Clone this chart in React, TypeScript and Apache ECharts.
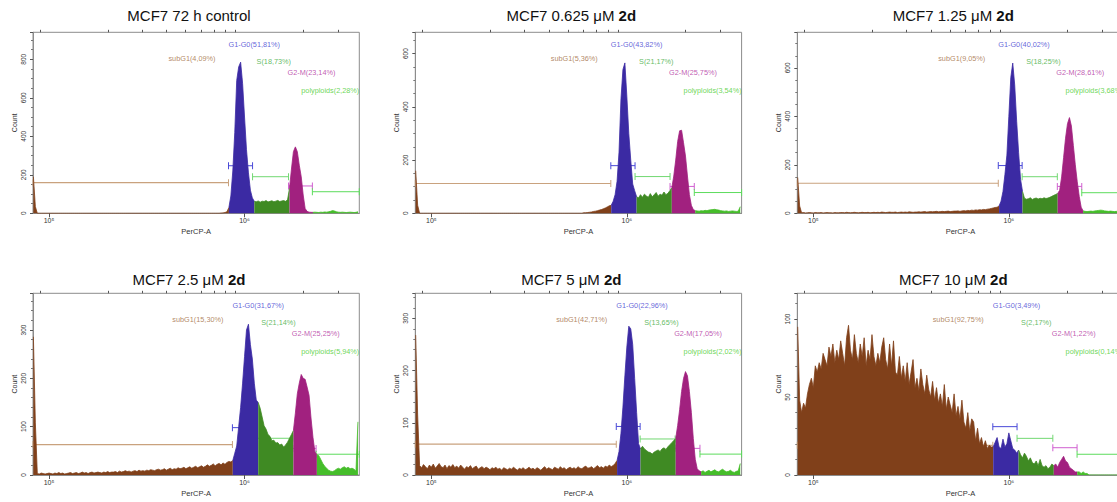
import React, { useEffect, useRef } from "react";
import * as echarts from "echarts";

// ---------- histogram channel grid (log10 of PerCP-A) ----------
const BIN_START_LOG = 4.92;
const BIN_STEP_LOG = 0.01;
const AXIS_MIN_LOG = 4.918;
const AXIS_MAX_LOG = 6.587;

// ---------- tick values ----------
const majorTicks = [1e5, 1e6];
const minorTicks = [9e4, 2e5, 3e5, 4e5, 5e5, 6e5, 7e5, 8e5, 9e5, 2e6, 3e6];

// ---------- titles ----------
const titleMain = ["MCF7 72 h control", "MCF7 0.625 μM ", "MCF7 1.25 μM ", "MCF7 2.5 μM ", "MCF7 5 μM ", "MCF7 10 μM "];
const titleBold = ["", "2d", "2d", "2d", "2d", "2d"];

// ---------- gate names and percentages ----------
const gateNames = ["subG1", "G1-G0", "S", "G2-M", "polyploids"];
const pct1 = ["4,09", "51,81", "18,73", "23,14", "2,28"];
const pct2 = ["5,36", "43,82", "21,17", "25,75", "3,54"];
const pct3 = ["9,05", "40,02", "18,25", "28,61", "3,68"];
const pct4 = ["15,30", "31,67", "21,14", "25,25", "5,94"];
const pct5 = ["42,71", "22,96", "13,65", "17,05", "2,02"];
const pct6 = ["92,75", "3,49", "2,17", "1,22", "0,14"];

// gate boundaries (log10): end of subG1, end of G1-G0, end of S, end of G2-M
const gates1 = [5.918, 6.041, 6.225, 6.347];
const gates2 = [5.918, 6.042, 6.221, 6.345];
const gates3 = [5.946, 6.068, 6.248, 6.373];
const gates4 = [5.938, 6.065, 6.247, 6.366];
const gates5 = [5.946, 6.068, 6.247, 6.374];
const gates6 = [5.918, 6.042, 6.225, 6.349];

// gate marker heights (Count): subG1, G1-G0, S, G2-M, polyploids
const gateH1 = [159, 247, 190, 142, 112];
const gateH2 = [112, 179, 138, 101, 78];
const gateH3 = [124, 197, 151, 111, 85];
const gateH4 = [63, 98, 76, 55, 43];
const gateH5 = [59, 93, 69, 51, 40];
const gateH6 = [19, 31, 23.5, 17.5, 13.3];

// y axis
const yMaxes = [940, 680, 747, 376, 348, 116.5];
const yIntervals = [200, 200, 200, 100, 100, 50];
const yMinorSplits = [4, 4, 4, 5, 5, 5];

// ---------- histogram counts (167 channels each) ----------
const counts1 = [
  190, 35,
  0, 0, 0, 0, 0, 0, 0, 0, 0, 0,
  0, 0, 0, 0, 0, 0, 0, 0, 0, 0,
  0, 0, 0, 0, 0, 0, 0, 0, 0, 0,
  0, 0, 0, 0, 0, 0, 0, 0, 0, 0,
  0, 0, 0, 0, 0, 0, 0, 0, 0, 0,
  0, 0, 0, 0, 0, 0, 0, 0, 0, 0,
  0, 0, 0, 0, 0, 0, 0, 0, 0, 0,
  0, 0, 0, 0, 0, 0, 0, 0, 0, 0,
  0, 0, 0, 0, 0, 0, 0, 0, 0, 0,
  0, 0, 0, 0,
  1, 2, 4, 8,
  30, 90, 220, 420, 690, 760, 785, 675, 500, 330, 210, 120, 80,
  62, 60, 64, 58, 63, 61, 66, 59, 62, 65, 60, 63, 67, 61, 64, 66, 62,
  70,
  130, 230, 320, 345, 320, 250, 190, 95, 25, 10, 6, 5,
  5, 6, 5, 4, 6, 5, 7, 6, 8, 10, 14, 12, 8, 6, 5, 6, 5, 4, 5, 6, 5, 4, 5, 8,
];

const counts2 = [
  160, 30,
  0, 0, 0, 0, 0, 0, 0, 0, 0, 0,
  0, 0, 0, 0, 0, 0, 0, 0, 0, 0,
  0, 0, 0, 0, 0, 0, 0, 0, 0, 0,
  0, 0, 0, 0, 0, 0, 0, 0, 0, 0,
  0, 0, 0, 0, 0, 0, 0, 0, 0, 0,
  0, 0, 0, 0, 0, 0, 0, 0, 0, 0,
  0, 0, 0, 0, 0, 0, 0, 0, 0, 0,
  0, 0, 0, 0, 0, 0, 0, 0, 0, 0,
  0, 0, 0, 0,
  2, 2, 3, 4, 5, 7, 8, 10, 12, 14, 17, 20, 24, 28,
  30, 45, 70, 120, 230, 430, 540, 565, 440, 300, 200, 110, 85,
  62, 58, 70, 60, 72, 65, 60, 74, 62, 70, 78, 64, 72, 68, 80, 70, 75, 85,
  95, 140, 200, 270, 310, 312, 265, 215, 140, 70, 30, 14,
  10, 9, 8, 10, 9, 11, 10, 12, 13, 14, 15, 13, 12, 10, 9, 8, 9, 7, 8, 9, 8, 7, 8, 25,
];

const counts3 = [
  148, 30,
  2, 3, 1, 2, 3, 2, 1, 3, 2, 2, 3, 1, 2, 3, 2, 2, 1, 3, 2,
  2, 3, 3, 2, 4, 3, 2, 3, 4, 3, 2, 3, 4, 3, 3, 4, 2, 3, 4, 3,
  4, 3, 5, 4, 3, 4, 5, 4, 4, 5, 3, 4, 5, 4, 5, 4, 6, 5, 4, 5,
  5, 6, 5, 6, 7, 5, 6, 7, 6, 7, 8, 6, 7, 8, 7, 8, 9, 7, 8, 9,
  9, 10, 8, 10, 11, 10, 12, 11, 13, 12, 14, 13, 15, 14, 16, 15, 17, 18, 20, 22, 24, 25,
  30, 50, 90, 160, 240, 400, 560, 620, 530, 380, 250, 140, 90,
  62, 58, 60, 64, 57, 61, 63, 59, 62, 60, 64, 61, 63, 66, 70, 74, 78,
  82, 95, 150, 230, 310, 370, 395, 360, 280, 200, 130, 70, 25, 10,
  8, 7, 8, 9, 8, 10, 11, 12, 13, 12, 10, 9, 8, 9, 8, 7, 8, 7, 8, 9,
];

const counts4 = [
  286, 108,
  3, 2, 4, 3, 2, 3, 4, 3, 2, 4, 3, 5, 3, 4, 2, 3, 4, 5, 3,
  4, 5, 3, 4, 6, 4, 5, 3, 5, 6, 4, 5, 6, 5, 4, 6, 5, 7, 5, 6,
  6, 7, 5, 8, 6, 7, 9, 7, 8, 6, 8, 9, 7, 10, 8, 9, 8, 10, 9, 11,
  10, 9, 11, 12, 10, 11, 13, 10, 12, 14, 11, 13, 12, 15, 13, 14, 16, 13, 15, 17,
  14, 16, 18, 15, 17, 19, 16, 18, 21, 18, 20, 23, 19, 22, 24, 21, 25, 22, 26, 28, 27,
  30, 45, 60, 100, 140, 190, 245, 300, 312, 270, 240, 190, 155,
  150, 138, 120, 102, 95, 84, 80, 71, 72, 66, 67, 62, 64, 58, 62, 68, 76, 84,
  92, 128, 168, 190, 208, 200, 198, 182, 165, 118, 78, 48,
  42, 40, 32, 24, 18, 14, 10, 8, 7, 9, 12, 14, 12, 15, 17, 14, 16, 13, 14, 12, 8, 110,
];

const counts5 = [
  268, 115,
  18, 14, 20, 16, 12, 19, 15, 21, 13, 17, 22, 16, 14, 19, 12, 18, 15, 20, 14,
  17, 13, 19, 15, 11, 16, 14, 18, 12, 15, 17, 11, 14, 16, 12, 15, 13, 10, 14, 12,
  15, 11, 13, 9, 14, 12, 10, 13, 11, 15, 12, 9, 13, 11, 14, 10, 12, 15, 11, 13,
  10, 14, 12, 9, 13, 16, 11, 14, 12, 10, 15, 13, 11, 16, 12, 14, 10, 13, 15, 12,
  14, 11, 16, 13, 12, 15, 17, 13, 14, 16, 12, 15, 18, 14, 16, 13, 17, 15, 19, 16, 18, 22,
  28, 45, 80, 130, 190, 245, 285, 280, 250, 185, 120, 60, 50,
  55, 50, 47, 44, 43, 40, 44, 46, 48, 45, 50, 52, 49, 54, 58, 62, 66,
  70, 95, 125, 160, 185, 198, 190, 160, 120, 70, 30, 12, 8,
  6, 8, 5, 7, 9, 6, 8, 10, 7, 6, 9, 11, 8, 6, 7, 9, 6, 5, 7, 8, 22,
];

const counts6 = [
  95,
  48, 40, 46, 43, 52,
  58, 62, 56, 70, 66,
  72, 68, 78, 74, 70, 82, 76, 84, 72, 80,
  74, 86, 78, 70, 88, 96, 80, 74, 90, 78,
  72, 84, 76, 88, 70, 80, 74, 90, 76, 70,
  78, 72, 82, 88, 74, 68, 84, 70, 86, 66,
  64, 76, 62, 70, 60, 72, 58, 66, 74, 56,
  62, 54, 68, 58, 52, 64, 55, 50, 60, 48,
  56, 46, 52, 44, 58, 42, 50, 45, 40, 52,
  38, 44, 36, 48, 34, 30, 40, 28, 36,
  34, 22, 30, 20, 24, 18, 22, 17, 19, 18,
  18, 21, 24, 18, 17, 23, 18, 20, 27, 22, 17, 16, 14,
  16, 13, 11, 14, 12, 9, 11, 8, 7, 9, 6, 10, 6, 5, 6, 4, 5, 7,
  6, 7, 5, 8, 10, 12, 9, 8, 5, 4, 3, 2,
  2, 2, 1, 2, 1, 1, 0, 0, 0, 0, 0, 0, 0, 0, 0, 0, 0, 0, 0, 0, 0, 0, 0, 0,
];

// ---------- styling / layout (not data) ----------
const FILL_COLORS = ["#80401a", "#3b2aa3", "#3f8a23", "#a1217f", "#45bd2a"];
const GATE_COLORS = ["#c9a27e", "#4a4ad8", "#72d872", "#d060d0", "#5cdc5c"];
const LABEL_COLORS = ["#a06a3c", "#3b3bd0", "#3aaa3a", "#b0309e", "#44cc2a"];
const COL_LEFT = [33, 415.3, 797.3];
const ROW_TOP = [32.3, 293.3];
const PLOT_W = 326.3;
const PLOT_H = [181, 181.7];
const TITLE_TOP = [8, 272];
const TITLE_DX = 156;
const SUB_LABEL_DX = [-13, -9];
const LABEL_DY = [26.5, 12, 29, 40, 58.5];
const LABEL_DX = [0, 0, 4, -1, 0];
const FRAME = "#8c8c8c";
const AXIS_TEXT = "#333";
const FONT = "'Liberation Sans', Arial, Helvetica, sans-serif";

const panelCounts = [counts1, counts2, counts3, counts4, counts5, counts6];
const panelGates = [gates1, gates2, gates3, gates4, gates5, gates6];
const panelGateH = [gateH1, gateH2, gateH3, gateH4, gateH5, gateH6];
const panelPct = [pct1, pct2, pct3, pct4, pct5, pct6];

function buildOption() {
  const xMin = Math.pow(10, AXIS_MIN_LOG);
  const xMax = Math.pow(10, AXIS_MAX_LOG);
  const grid: any[] = [];
  const xAxis: any[] = [];
  const yAxis: any[] = [];
  const series: any[] = [];
  const title: any[] = [];

  for (let k = 0; k < 6; k++) {
    const row = Math.floor(k / 3);
    const col = k % 3;
    const left = COL_LEFT[col];
    const top = ROW_TOP[row];
    const counts = panelCounts[k];
    const gates = panelGates[k];
    const gateH = panelGateH[k];
    const pct = panelPct[k];
    const yMax = yMaxes[k];

    grid.push({
      left, top, width: PLOT_W, height: PLOT_H[row],
      show: true, borderColor: FRAME, borderWidth: 1, backgroundColor: "transparent",
      containLabel: false, outerBoundsMode: "none",
    });

    xAxis.push({
      type: "log", logBase: 10, gridIndex: k, min: xMin, max: xMax,
      axisLine: { show: true, lineStyle: { color: FRAME, width: 1 } },
      axisTick: { show: true, customValues: majorTicks, length: 4, lineStyle: { color: "#555" } },
      axisLabel: {
        show: true, customValues: majorTicks, fontSize: 7, margin: 4, color: AXIS_TEXT, fontFamily: FONT,
        formatter: (v: number) => {
          const e = Math.round(Math.log10(v));
          return e === 5 ? "10⁵" : e === 6 ? "10⁶" : "";
        },
      },
      splitLine: { show: false },
      minorTick: { show: false },
      name: "PerCP-A", nameLocation: "middle", nameGap: 14,
      nameTextStyle: { fontSize: 7.5, color: AXIS_TEXT, fontFamily: FONT },
    });
    xAxis.push({
      type: "log", logBase: 10, gridIndex: k, min: xMin, max: xMax,
      axisLine: { show: false },
      axisTick: { show: true, customValues: minorTicks, length: 2.5, lineStyle: { color: "#555" } },
      axisLabel: { show: false },
      splitLine: { show: false },
    });

    yAxis.push({
      type: "value", gridIndex: k, min: 0, max: yMax, interval: yIntervals[k],
      axisLine: { show: true, lineStyle: { color: FRAME, width: 1 } },
      axisTick: { show: true, length: 3, lineStyle: { color: "#555" } },
      minorTick: { show: true, splitNumber: yMinorSplits[k], length: 2, lineStyle: { color: "#777" } },
      axisLabel: { rotate: 90, fontSize: 6.5, margin: 6, color: AXIS_TEXT, showMaxLabel: false, fontFamily: FONT },
      splitLine: { show: false },
      name: "Count", nameLocation: "middle", nameGap: 15, nameRotate: 90,
      nameTextStyle: { fontSize: 7, color: AXIS_TEXT, fontFamily: FONT },
    });

    title.push({
      text: titleBold[k] ? `{n|${titleMain[k]}}{b|${titleBold[k]}}` : `{n|${titleMain[k]}}`,
      left: left + TITLE_DX, top: TITLE_TOP[row], textAlign: "center", padding: 0,
      textStyle: {
        fontFamily: FONT, fontSize: 15, fontWeight: "normal", color: "#111",
        rich: {
          n: { fontFamily: FONT, fontSize: 15, color: "#111" },
          b: { fontFamily: FONT, fontSize: 15, fontWeight: "bold", color: "#111" },
        },
      },
    });

    // histogram segments coloured by gate
    const bounds = [-Infinity, ...gates, Infinity];
    const gateOf = (i: number) => {
      const lg = BIN_START_LOG + i * BIN_STEP_LOG;
      for (let g = 0; g < 5; g++) if (lg >= bounds[g] && lg < bounds[g + 1]) return g;
      return 4;
    };
    for (let g = 0; g < 5; g++) {
      const pts: number[][] = [];
      let lastIdx = -1;
      counts.forEach((c, i) => {
        if (gateOf(i) === g) {
          pts.push([Math.pow(10, BIN_START_LOG + i * BIN_STEP_LOG), c]);
          lastIdx = i;
        }
      });
      if (lastIdx >= 0 && lastIdx + 1 < counts.length) {
        const j = lastIdx + 1;
        pts.push([Math.pow(10, BIN_START_LOG + j * BIN_STEP_LOG), counts[j]]);
      }
      series.push({
        type: "line", xAxisIndex: 2 * k, yAxisIndex: k, data: pts,
        showSymbol: false, symbol: "none", silent: true, z: 3,
        lineStyle: { color: FILL_COLORS[g], width: 0.8 },
        areaStyle: { color: FILL_COLORS[g], opacity: 1 },
      });
    }

    // gate markers (drawn beneath the histogram fill)
    const gx = [AXIS_MIN_LOG, ...gates, AXIS_MAX_LOG];
    for (let g = 0; g < 5; g++) {
      series.push({
        type: "line", xAxisIndex: 2 * k, yAxisIndex: k, silent: true, z: 1,
        data: [[Math.pow(10, gx[g]), gateH[g]], [Math.pow(10, gx[g + 1]), gateH[g]]],
        symbol: "rect", symbolSize: [1, 7], showSymbol: true,
        lineStyle: { color: GATE_COLORS[g], width: g === 0 ? 1.2 : 1 },
        itemStyle: { color: GATE_COLORS[g] },
      });
    }

    // gate labels
    const anchorX = [Math.pow(10, gates[0]), Math.pow(10, gates[0]), Math.pow(10, gates[1]), Math.pow(10, gates[2]), xMax];
    const aligns = ["right", "left", "left", "left", "right"];
    series.push({
      type: "scatter", xAxisIndex: 2 * k, yAxisIndex: k, silent: true, clip: false, z: 6,
      symbolSize: 1, itemStyle: { color: "rgba(0,0,0,0)" },
      data: gateNames.map((nm, g) => ({
        value: [anchorX[g], yMax],
        label: {
          show: true, position: "inside", align: aligns[g], verticalAlign: "middle",
          offset: [g === 0 ? SUB_LABEL_DX[row] : LABEL_DX[g], LABEL_DY[g]],
          formatter: `${nm}(${pct[g]}%)`, color: LABEL_COLORS[g], fontSize: 7.3, fontFamily: FONT,
        },
      })),
    });
  }

  return {
    animation: false,
    backgroundColor: "#ffffff",
    textStyle: { fontFamily: FONT },
    title, grid, xAxis, yAxis, series,
  };
}

export default function App() {
  const ref = useRef<HTMLDivElement>(null);
  useEffect(() => {
    const chart = echarts.init(ref.current!, null, { renderer: "svg" });
    chart.setOption(buildOption() as any);
    return () => chart.dispose();
  }, []);
  return (
    <div
      ref={ref}
      style={{ position: "fixed", left: 0, top: 0, width: 1117, height: 502, background: "#fff" }}
    />
  );
}
